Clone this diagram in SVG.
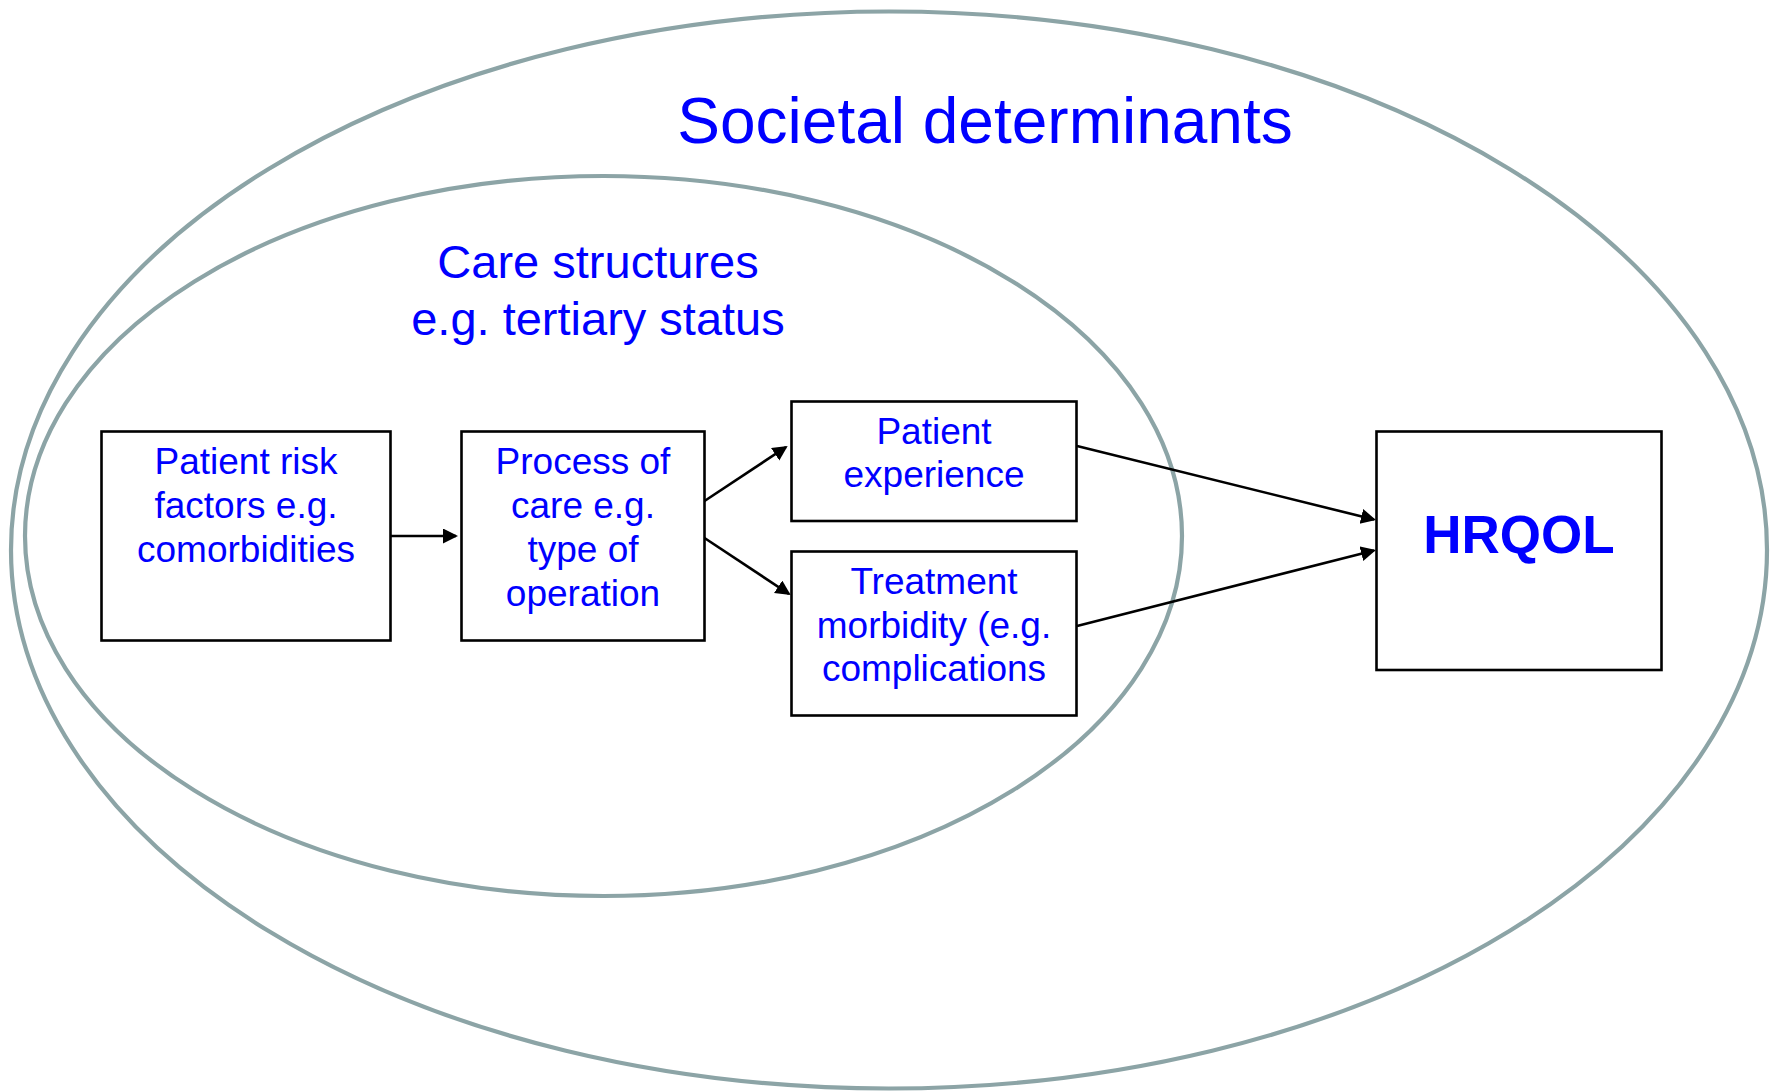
<svg xmlns="http://www.w3.org/2000/svg" width="1781" height="1091" viewBox="0 0 1781 1091">
  <defs>
    <style>
      .ring { fill: none; stroke: #8ca4a6; stroke-width: 4.2; }
      .box { fill: #ffffff; stroke: #000000; stroke-width: 2.6; }
      .label { font-family: "Liberation Sans", Arial, sans-serif; fill: #0000ff; text-anchor: middle; }
      .node { font-size: 37px; }
      .conn { stroke: #000000; stroke-width: 2.6; fill: none; marker-end: url(#arrow); }
    </style>
    <marker id="arrow" markerUnits="userSpaceOnUse" markerWidth="16" markerHeight="16" refX="13" refY="7.5" orient="auto">
      <path d="M0,0 L15,7.5 L0,15 z" fill="#000000"/>
    </marker>
  </defs>

  <rect width="1781" height="1091" fill="#ffffff"/>

  <!-- nested context ellipses -->
  <g id="societal">
    <ellipse class="ring" cx="889" cy="550" rx="878" ry="538.5"/>
    <text class="label" x="985" y="143" font-size="64">Societal determinants</text>
  </g>
  <g id="care-structures">
    <ellipse class="ring" cx="603.5" cy="536" rx="578.5" ry="360"/>
    <text class="label" x="598" y="278" font-size="47">Care structures</text>
    <text class="label" x="598" y="335" font-size="47">e.g. tertiary status</text>
  </g>

  <!-- connectors -->
  <g id="connectors">
    <line class="conn" x1="388" y1="536" x2="456" y2="536"/>
    <line class="conn" x1="703" y1="502" x2="786" y2="447"/>
    <line class="conn" x1="703" y1="537" x2="789" y2="594"/>
    <line class="conn" x1="1077" y1="446" x2="1374" y2="519.5"/>
    <line class="conn" x1="1077" y1="626" x2="1374" y2="550.5"/>
  </g>

  <!-- nodes -->
  <g id="patient-risk">
    <rect class="box" x="101.5" y="431.5" width="289" height="209"/>
    <text class="label node" x="246" y="473.5">Patient risk</text>
    <text class="label node" x="246" y="517.5">factors e.g.</text>
    <text class="label node" x="246" y="561.5">comorbidities</text>
  </g>
  <g id="process-of-care">
    <rect class="box" x="461.5" y="431.5" width="243" height="209"/>
    <text class="label node" x="583" y="473.5">Process of</text>
    <text class="label node" x="583" y="517.5">care e.g.</text>
    <text class="label node" x="583" y="561.5">type of</text>
    <text class="label node" x="583" y="605.5">operation</text>
  </g>
  <g id="patient-experience">
    <rect class="box" x="791.5" y="401.5" width="285" height="119.5"/>
    <text class="label node" x="934" y="443.5">Patient</text>
    <text class="label node" x="934" y="487">experience</text>
  </g>
  <g id="treatment-morbidity">
    <rect class="box" x="791.5" y="551.5" width="285" height="164"/>
    <text class="label node" x="934" y="593.5">Treatment</text>
    <text class="label node" x="934" y="637.5">morbidity (e.g.</text>
    <text class="label node" x="934" y="681">complications</text>
  </g>
  <g id="hrqol">
    <rect class="box" x="1376.5" y="431.5" width="285" height="238.5"/>
    <text class="label" x="1519" y="553" font-size="53" font-weight="bold">HRQOL</text>
  </g>
</svg>
